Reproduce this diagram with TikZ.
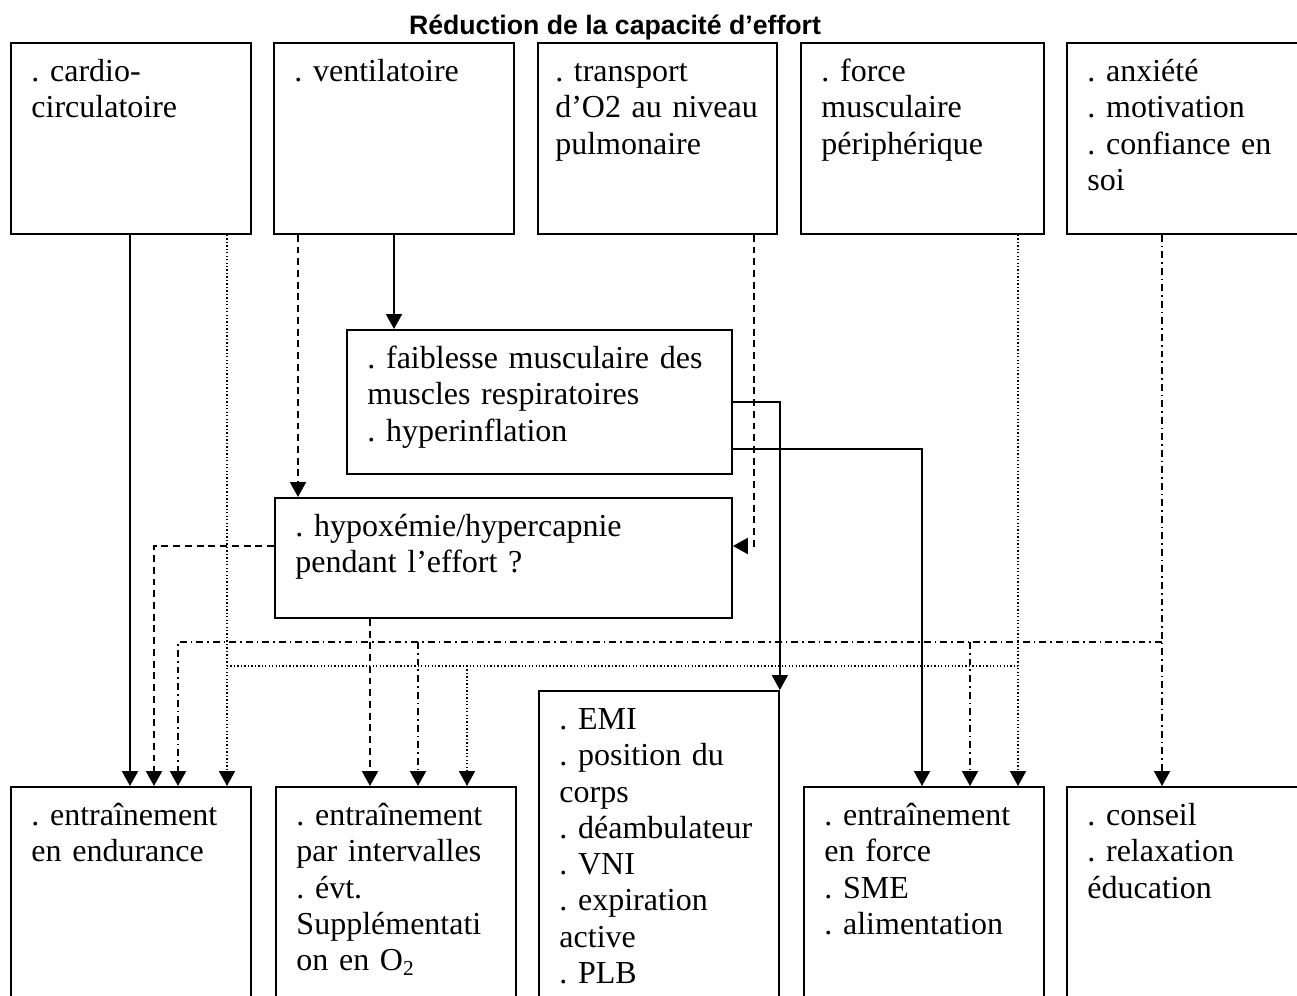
\documentclass[tikz,border=0pt]{standalone}
\usepackage{fontspec}
\setmainfont{Liberation Serif}
\newfontfamily\titlefont{Liberation Sans}
\usetikzlibrary{arrows.meta}
\frenchspacing

\begin{document}
\begin{tikzpicture}[x=0.375pt, y=-0.375pt,
  box/.style={draw, line width=0.7pt, anchor=north west, align=left,
    inner xsep=7.7pt, inner ysep=4pt, text height=10.5pt,
    font=\fontsize{12}{13.6}\selectfont\frenchspacing},
  topbox/.style={box, text width=74.6pt, text depth=53.1pt},
  lowbox/.style={box, text width=74.6pt, text depth=65.5pt},
  arrtip/.style={-{Triangle[width=6pt,length=5.6pt]}},
  arrfull/.style={line width=0.7pt, arrtip},
  arrdash/.style={line width=0.7pt, dash pattern=on 2.6pt off 1.8pt, arrtip},
  dotline/.style={line width=0.6pt, dash pattern=on 0.5pt off 0.8pt},
  arrdot/.style={dotline, arrtip},
  ddline/.style={line width=0.7pt, dash pattern=on 2.6pt off 1.5pt on 0.6pt off 1.5pt},
  arrdd/.style={ddline, arrtip}]

  \useasboundingbox (0,0) rectangle (1297,996);
  \clip (0,0) rectangle (1297,996);

  \node[font=\titlefont\bfseries\fontsize{10}{12}\selectfont, anchor=base] (title) at (615,35) {Réduction de la capacité d’effort};

  \node[topbox] (cardio) at (10,42) {. cardio-\\circulatoire};
  \node[topbox] (venti) at (273,42) {. ventilatoire};
  \node[topbox, inner xsep=6.5pt, text width=76.6pt] (transp) at (537,42) {. transport\\d’O2 au niveau\\pulmonaire};
  \node[topbox, text width=75.7pt] (force) at (800,42) {. force\\musculaire\\périphérique};
  \node[topbox, text width=76.1pt] (psy) at (1066,42) {. anxiété\\. motivation\\. confiance en\\soi};

  \node[box, text width=129pt, text depth=35.5pt] (faib) at (346,329) {. faiblesse musculaire des\\muscles respiratoires\\. hyperinflation};
  \node[box, text width=156pt, text depth=26.5pt] (hypo) at (274,497) {. hypoxémie/hypercapnie\\pendant l’effort ?};

  \node[lowbox] (endur) at (10,786) {. entraînement\\en endurance};
  \node[lowbox] (interv) at (275,786) {. entraînement\\par intervalles\\. évt.\\Supplémentati\\on en O\textsubscript{2}};
  \node[box, text width=74.6pt, text depth=101.5pt] (emi) at (538,690) {. EMI\\. position du\\corps\\. déambulateur\\. VNI\\. expiration\\active\\. PLB};
  \node[lowbox] (forceb) at (803,786) {. entraînement\\en force\\. SME\\. alimentation};
  \node[lowbox, text width=76.1pt] (conseil) at (1066,786) {. conseil\\. relaxation\\éducation};

  \coordinate (dotL) at (227,666);
  \coordinate (dotR) at (1018,666);
  \coordinate (ddR) at (1162,642);

  \draw[arrfull] (cardio.south -| 130,0) -- (endur.north -| 130,0);
  \draw[arrfull] (venti.south -| 394,0) -- (faib.north -| 394,0);
  \draw[arrfull] (faib.east |- 0,402) -| (emi.north east);
  \draw[arrfull] (faib.east |- 0,449) -| (forceb.north -| 922,0);

  \draw[arrdash] (venti.south -| 298,0) -- (hypo.north -| 298,0);
  \draw[arrdash] (transp.south -| 754,0) |- (hypo.east |- 0,546);
  \draw[arrdash] (hypo.west |- 0,546) -| (endur.north -| 154,0);
  \draw[arrdash] (hypo.south -| 370,0) -- (interv.north -| 370,0);

  \draw[arrdot] (cardio.south -| 227,0) -- (endur.north -| 227,0);
  \draw[arrdot] (force.south -| 1018,0) -- (forceb.north -| 1018,0);
  \draw[dotline] (dotL) -- (dotR);
  \draw[arrdot] (dotL -| 467,0) -- (interv.north -| 467,0);

  \draw[arrdd] (psy.south -| 1162,0) -- (conseil.north -| 1162,0);
  \draw[arrdd] (ddR) -| (endur.north -| 178,0);
  \draw[arrdd] (ddR -| 418,0) -- (interv.north -| 418,0);
  \draw[arrdd] (ddR -| 970,0) -- (forceb.north -| 970,0);
\end{tikzpicture}
\end{document}
